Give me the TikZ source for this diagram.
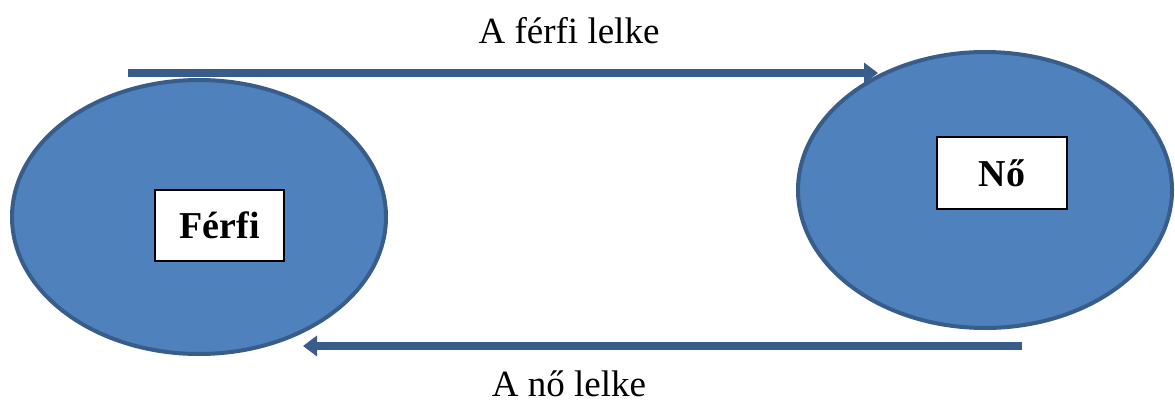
\documentclass[tikz,border=0pt]{standalone}
\usepackage{fontspec}
\setmainfont{Liberation Serif}
\usetikzlibrary{arrows.meta,shapes.geometric}
\definecolor{fillblue}{HTML}{4F81BD}
\definecolor{edgeblue}{HTML}{385D8A}
\begin{document}
\begin{tikzpicture}[x=1pt,y=-1pt,
  blob/.style={ellipse,draw=edgeblue,fill=fillblue,line width=4pt,inner sep=0pt},
  namebox/.style={draw=black,fill=white,line width=1.5pt,inner sep=0pt,font=\fontsize{38}{44}\selectfont\bfseries},
  flow/.style={draw=edgeblue,line width=8pt,-{Triangle[length=14pt,width=20pt]}},
  caption/.style={font=\fontsize{37}{44}\selectfont,inner sep=0pt}]
\useasboundingbox (0,0) rectangle (1175,404);
\coordinate (s1) at (128,73);
\coordinate (e1) at (878,73);
\coordinate (s2) at (1022,346);
\coordinate (e2) at (303,346);
\draw[flow] (s1) -- (e1);
\draw[flow] (s2) -- (e2);
\node[blob,minimum width=374pt,minimum height=274pt] (ferfi) at (199,217) {};
\node[blob,minimum width=374pt,minimum height=276pt] (no) at (985,190) {};
\node[namebox,minimum width=129pt,minimum height=71pt] (fbox) at (219.5,225.5) {Férfi};
\node[namebox,minimum width=130pt,minimum height=72pt] (nbox) at (1002,173) {Nő};
\node[caption] (t1) at (569,31) {A férfi lelke};
\node[caption] (t2) at (569,384) {A nő lelke};
\end{tikzpicture}
\end{document}
